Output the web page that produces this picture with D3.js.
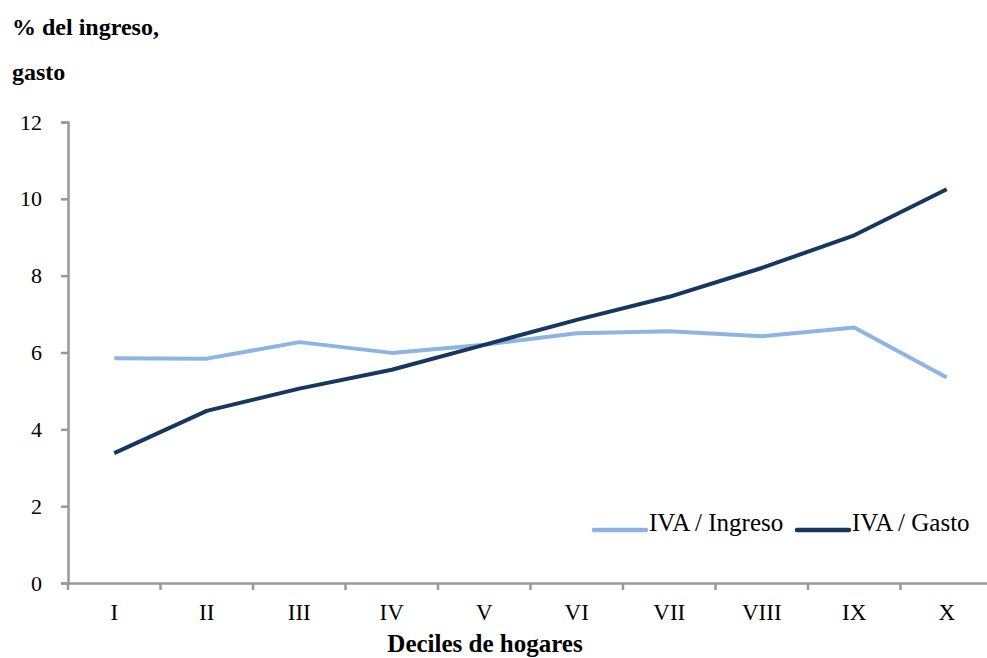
<!DOCTYPE html>
<html>
<head>
<meta charset="utf-8">
<script src="https://cdn.jsdelivr.net/npm/d3@7"></script>
<style>
  body { margin: 0; background: #fff; }
  svg text { font-family: "Liberation Serif", "DejaVu Serif", serif; fill: #000; }
</style>
</head>
<body>
<div id="chart"></div>
<script>
const deciles = ["I","II","III","IV","V","VI","VII","VIII","IX","X"];
const ivaIngreso = [5.85, 5.84, 6.27, 5.99, 6.2, 6.5, 6.55, 6.42, 6.65, 5.35];
const ivaGasto = [3.38, 4.48, 5.06, 5.55, 6.2, 6.85, 7.45, 8.2, 9.05, 10.25];
const yTicks = [0, 2, 4, 6, 8, 10, 12];

const width = 987, height = 658;
const axisColor = "#999";

const svg = d3.select("#chart").append("svg")
    .attr("width", width)
    .attr("height", height);

const x = d3.scaleBand().domain(deciles).range([68, 993]);
const y = d3.scaleLinear().domain([0, 12]).range([583, 122]);

// y axis
const yAxis = svg.append("g")
    .attr("transform", "translate(68,0)")
    .call(d3.axisLeft(y).tickValues(yTicks).tickSize(7).tickPadding(19));
yAxis.select(".domain").attr("stroke", axisColor).attr("stroke-width", 2.5);
yAxis.selectAll(".tick line").attr("stroke", axisColor).attr("stroke-width", 2.5);
yAxis.selectAll(".tick text").style("font-size", "22px").attr("fill", "#000")
    .style("font-family", "Liberation Serif, serif");

// x axis
const xAxis = svg.append("g")
    .attr("transform", "translate(0,583)")
    .call(d3.axisBottom(x).tickSize(0).tickPadding(21));
xAxis.select(".domain").attr("stroke", axisColor).attr("stroke-width", 2.5);
xAxis.selectAll(".tick text").style("font-size", "23px").attr("fill", "#000")
    .style("font-family", "Liberation Serif, serif");
// tick marks between categories
xAxis.selectAll(".sep")
    .data(deciles)
    .enter()
    .append("line")
    .attr("x1", d => x(d))
    .attr("x2", d => x(d))
    .attr("y1", 0)
    .attr("y2", 7)
    .attr("stroke", axisColor)
    .attr("stroke-width", 2.5);

// lines
const line = (vals) => d3.line()
    .x((d, i) => x(deciles[i]) + x.bandwidth() / 2)
    .y(d => y(d))(vals);

svg.append("path")
    .attr("d", line(ivaIngreso))
    .attr("fill", "none")
    .attr("stroke", "#8DB4E2")
    .attr("stroke-width", 4)
    .attr("stroke-linejoin", "round");

svg.append("path")
    .attr("d", line(ivaGasto))
    .attr("fill", "none")
    .attr("stroke", "#17375E")
    .attr("stroke-width", 4)
    .attr("stroke-linejoin", "round");

// title
svg.append("text")
    .attr("x", 12).attr("y", 35)
    .attr("font-size", 24).attr("font-weight", "bold")
    .text("% del ingreso,");
svg.append("text")
    .attr("x", 12).attr("y", 80)
    .attr("font-size", 24).attr("font-weight", "bold")
    .text("gasto");

// x label
svg.append("text")
    .attr("x", 485).attr("y", 652)
    .attr("text-anchor", "middle")
    .attr("font-size", 25).attr("font-weight", "bold")
    .text("Deciles de hogares");

// legend
const legend = [
    {name: "IVA / Ingreso", color: "#8DB4E2", x: 594},
    {name: "IVA / Gasto", color: "#17375E", x: 797}
];
legend.forEach(l => {
    svg.append("line")
        .attr("x1", l.x).attr("x2", l.x + 52)
        .attr("y1", 530).attr("y2", 530)
        .attr("stroke", l.color)
        .attr("stroke-width", 4.5)
        .attr("stroke-linecap", "round");
    svg.append("text")
        .attr("x", l.x + 55).attr("y", 531)
        .attr("font-size", 25)
        .text(l.name);
});
</script>
</body>
</html>
